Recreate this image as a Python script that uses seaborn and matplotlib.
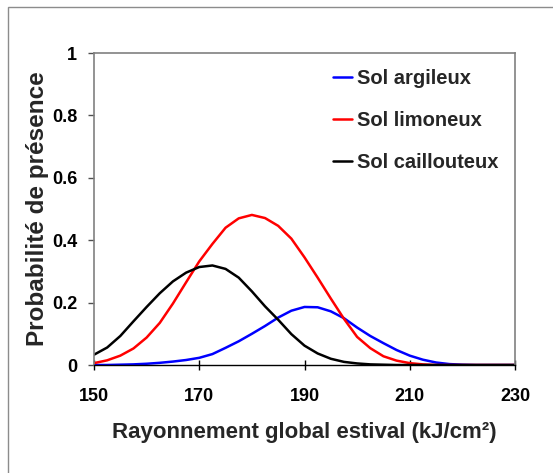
import matplotlib
matplotlib.use('Agg')
import matplotlib.pyplot as plt
import pandas as pd
import seaborn as sns
from matplotlib.patches import Rectangle

# Rayonnement values (x) where the curves were read, every 2.5 kJ/cm2
rayonnement = [150, 152.5, 155, 157.5, 160, 162.5, 165, 167.5, 170, 172.5,
               175, 177.5, 180, 182.5, 185, 187.5, 190, 192.5, 195, 197.5,
               200, 202.5, 205, 207.5, 210, 212.5, 215, 217.5, 220, 222.5,
               225, 227.5, 230]

argileux = [0.0, 0.0, 0.001, 0.002, 0.004, 0.007, 0.011, 0.016, 0.023, 0.035,
            0.055, 0.076, 0.100, 0.125, 0.152, 0.174, 0.186, 0.185, 0.172, 0.150,
            0.120, 0.093, 0.070, 0.048, 0.030, 0.017, 0.008, 0.003, 0.001, 0.0,
            0.0, 0.0, 0.0]

limoneux = [0.006, 0.015, 0.030, 0.053, 0.088, 0.135, 0.197, 0.265, 0.332, 0.388,
            0.440, 0.470, 0.481, 0.471, 0.446, 0.405, 0.345, 0.280, 0.213, 0.148,
            0.090, 0.054, 0.028, 0.014, 0.006, 0.002, 0.0, 0.0, 0.0, 0.0,
            0.0, 0.0, 0.0]

caillouteux = [0.033, 0.056, 0.093, 0.140, 0.186, 0.230, 0.268, 0.296, 0.314, 0.319,
               0.308, 0.280, 0.236, 0.188, 0.145, 0.099, 0.062, 0.037, 0.020, 0.010,
               0.005, 0.002, 0.001, 0.0, 0.0, 0.0, 0.0, 0.0, 0.0, 0.0,
               0.0, 0.0, 0.0]

series_names = ['Sol argileux', 'Sol limoneux', 'Sol caillouteux']
colors = ['#0000ff', '#ff0000', '#000000']

df = pd.DataFrame({
    'x': rayonnement * 3,
    'y': argileux + limoneux + caillouteux,
    'sol': [s for s in series_names for _ in rayonnement],
})

sns.set_style('white')
plt.rcParams['font.family'] = ['Liberation Sans', 'DejaVu Sans']
plt.rcParams['font.weight'] = 'bold'

fig = plt.figure(figsize=(5.53, 4.73), dpi=100)
ax = fig.add_axes([94 / 553, 1 - 365 / 473, 421 / 553, 312 / 473])

# outer frame of the original picture
fig.patches.append(Rectangle((8 / 553, -0.1), 1.2, 1 - 7 / 473 + 0.1,
                             transform=fig.transFigure, fill=False,
                             edgecolor='#8c8c8c', linewidth=1.0))

sns.lineplot(data=df, x='x', y='y', hue='sol', palette=colors,
             linewidth=1.8, ax=ax)

ax.set_xlim(150, 230)
ax.set_ylim(0, 1)
ax.set_xticks(range(150, 231, 20))
ax.set_yticks([0, 0.2, 0.4, 0.6, 0.8, 1])
ax.set_yticklabels(['0', '0.2', '0.4', '0.6', '0.8', '1'])

for side in ['left', 'top', 'right']:
    ax.spines[side].set_color('#808080')
    ax.spines[side].set_linewidth(1.2)
ax.spines['bottom'].set_color('black')
ax.spines['bottom'].set_linewidth(1.0)

ax.tick_params(axis='x', direction='inout', length=7, width=1, colors='black',
               labelsize=13, pad=13)
ax.tick_params(axis='y', direction='out', length=4, width=1, color='#505050',
               labelcolor='black', labelsize=13, pad=8)
ax.tick_params(left=True, bottom=True)

ax.set_xlabel('Rayonnement global estival (kJ/cm²)', fontsize=16, fontweight='bold',
              labelpad=12)
ax.set_ylabel('Probabilité de présence', fontsize=17.5, fontweight='bold', labelpad=2)

ax.legend(loc='upper left', bbox_to_anchor=(0.548, 0.975), frameon=False,
          fontsize=14.5, handlelength=0.95, handletextpad=0.25, labelspacing=1.15,
          borderaxespad=0)

plt.savefig('out.png', dpi=100)
